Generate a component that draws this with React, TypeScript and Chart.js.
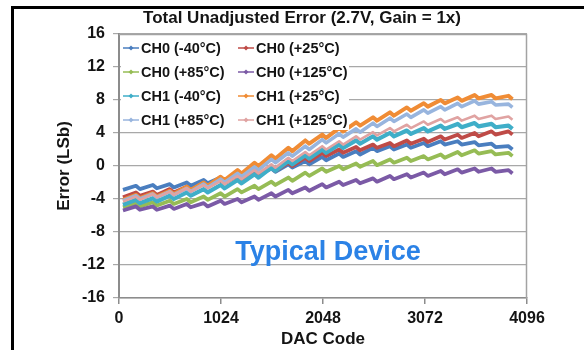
import React, { useEffect, useRef } from "react";
import { Chart, registerables } from "chart.js";

Chart.register(...registerables);

const chartTitle = "Total Unadjusted Error (2.7V, Gain = 1x)";
const xAxisTitle = "DAC Code";
const yAxisTitle = "Error (LSb)";
const noteText = "Typical Device";

const xTicks = [0, 1024, 2048, 3072, 4096];
const yTicks = [-16, -12, -8, -4, 0, 4, 8, 12, 16];

const dacCodes = [
  40, 170, 210, 340, 380, 510, 550, 680, 720, 850, 890, 1020, 1060, 1190, 1230, 1360,
  1400, 1530, 1570, 1700, 1740, 1870, 1910, 2040, 2080, 2210, 2250, 2380, 2420, 2550,
  2590, 2720, 2760, 2890, 2930, 3060, 3100, 3230, 3270, 3400, 3440, 3570, 3610, 3740,
  3780, 3910, 3950,
];

const seriesLabels = [
  "CH0 (-40°C)",
  "CH0 (+25°C)",
  "CH0 (+85°C)",
  "CH0 (+125°C)",
  "CH1 (-40°C)",
  "CH1 (+25°C)",
  "CH1 (+85°C)",
  "CH1 (+125°C)",
];

const ch0Minus40 = [
  -2.9, -2.4, -2.8, -2.3, -2.7, -2.2, -2.6, -2.0, -2.4, -1.7, -2.1, -1.4, -1.8, -1.1, -1.5, -0.7,
  -1.1, -0.3, -0.7, 0.2, -0.2, 0.6, 0.2, 1.1, 0.7, 1.5, 1.1, 1.8, 1.4, 2.2, 1.8, 2.4,
  2.0, 2.6, 2.2, 2.8, 2.4, 3.0, 2.6, 3.0, 2.6, 2.9, 2.5, 2.7, 2.3, 2.4, 2.0,
];
const ch0Plus25 = [
  -3.8, -3.2, -3.6, -3.1, -3.5, -2.8, -3.2, -2.5, -2.9, -2.1, -2.5, -1.7, -2.1, -1.2, -1.6, -0.7,
  -1.1, -0.2, -0.6, 0.4, 0.0, 1.0, 0.6, 1.6, 1.2, 2.0, 1.6, 2.3, 1.9, 2.6, 2.2, 2.8,
  2.4, 3.1, 2.7, 3.3, 2.9, 3.6, 3.2, 3.8, 3.4, 4.0, 3.6, 4.2, 3.8, 4.2, 3.8,
];
const ch0Plus85 = [
  -5.0, -4.5, -4.9, -4.4, -4.8, -4.2, -4.6, -4.0, -4.4, -3.7, -4.1, -3.3, -3.7, -2.8, -3.2, -2.4,
  -2.8, -1.9, -2.3, -1.4, -1.8, -0.8, -1.2, -0.3, -0.7, 0.0, -0.4, 0.3, -0.1, 0.6, 0.1, 0.8,
  0.4, 1.0, 0.6, 1.2, 0.8, 1.4, 1.0, 1.7, 1.3, 1.9, 1.5, 1.8, 1.4, 1.6, 1.2,
];
const ch0Plus125 = [
  -5.4, -4.9, -5.3, -4.9, -5.3, -4.8, -5.2, -4.6, -5.0, -4.5, -4.9, -4.2, -4.6, -4.0, -4.4, -3.7,
  -4.1, -3.3, -3.7, -2.9, -3.3, -2.6, -3.0, -2.2, -2.6, -1.9, -2.3, -1.7, -2.1, -1.5, -1.9, -1.2,
  -1.6, -1.0, -1.4, -0.8, -1.2, -0.6, -1.0, -0.4, -0.8, -0.3, -0.7, -0.3, -0.7, -0.5, -0.9,
];
const ch1Minus40 = [
  -4.7, -4.1, -4.5, -3.9, -4.3, -3.6, -4.0, -3.2, -3.6, -2.8, -3.2, -2.3, -2.7, -1.7, -2.1, -1.0,
  -1.4, -0.2, -0.6, 0.6, 0.2, 1.3, 0.9, 2.0, 1.6, 2.6, 2.2, 3.1, 2.7, 3.6, 3.2, 4.0,
  3.6, 4.3, 3.9, 4.6, 4.2, 4.9, 4.5, 5.1, 4.7, 5.2, 4.8, 5.1, 4.7, 4.9, 4.5,
];
const ch1Plus25 = [
  -4.1, -3.5, -3.9, -3.3, -3.7, -3.0, -3.4, -2.5, -2.9, -2.0, -2.4, -1.3, -1.7, -0.5, -0.9, 0.4,
  0.0, 1.3, 0.9, 2.2, 1.8, 3.1, 2.7, 3.8, 3.4, 4.6, 4.2, 5.3, 4.9, 5.9, 5.5, 6.5,
  6.1, 7.1, 6.7, 7.6, 7.2, 8.0, 7.6, 8.3, 7.9, 8.6, 8.2, 8.6, 8.2, 8.5, 8.1,
];
const ch1Plus85 = [
  -4.2, -3.6, -4.0, -3.4, -3.8, -3.1, -3.5, -2.7, -3.1, -2.2, -2.6, -1.6, -2.0, -0.9, -1.3, -0.1,
  -0.5, 0.8, 0.4, 1.6, 1.2, 2.4, 2.0, 3.2, 2.8, 3.9, 3.5, 4.5, 4.1, 5.2, 4.8, 5.8,
  5.4, 6.3, 5.9, 6.8, 6.4, 7.2, 6.8, 7.6, 7.2, 7.9, 7.5, 7.8, 7.4, 7.5, 7.1,
];
const ch1Plus125 = [
  -4.3, -3.7, -4.1, -3.4, -3.8, -3.1, -3.5, -2.7, -3.1, -2.3, -2.7, -1.8, -2.2, -1.2, -1.6, -0.5,
  -0.9, 0.2, -0.2, 1.0, 0.6, 1.7, 1.3, 2.4, 2.0, 3.0, 2.6, 3.6, 3.2, 4.1, 3.7, 4.6,
  4.2, 5.0, 4.6, 5.4, 5.0, 5.7, 5.3, 5.9, 5.5, 6.1, 5.7, 6.1, 5.7, 6.0, 5.6,
];

const seriesValues = [
  ch0Minus40,
  ch0Plus25,
  ch0Plus85,
  ch0Plus125,
  ch1Minus40,
  ch1Plus25,
  ch1Plus85,
  ch1Plus125,
];

const seriesColors = [
  "#4A7EBF",
  "#BF4B47",
  "#96BC55",
  "#7B5AA6",
  "#3FAEC8",
  "#F08C35",
  "#98B5DE",
  "#E0A3A2",
];
const seriesWidths = [3.8, 3.8, 3.8, 3.8, 4.2, 4.0, 3.6, 2.6];

const FONT = "'Liberation Sans', Arial, sans-serif";

const overlayPlugin = {
  id: "overlay",
  beforeDatasetsDraw(chart: any) {
    const { ctx, chartArea: a } = chart;
    ctx.save();
    ctx.strokeStyle = "#a3a3a3";
    ctx.lineWidth = 1.5;
    ctx.beginPath();
    ctx.moveTo(a.left, a.top + 0.5);
    ctx.lineTo(a.right - 0.5, a.top + 0.5);
    ctx.lineTo(a.right - 0.5, a.bottom);
    ctx.stroke();
    ctx.restore();
  },
  afterDatasetsDraw(chart: any) {
    const { ctx, chartArea: a } = chart;
    ctx.save();
    ctx.fillStyle = "#ffffff";
    ctx.fillRect(a.left + 2, a.top + 2, 228, 94);
    const colX = [123, 238];
    const rowY = [48, 72, 96, 120];
    ctx.font = `bold 14.5px ${FONT}`;
    ctx.textBaseline = "middle";
    ctx.textAlign = "left";
    seriesLabels.forEach((label, i) => {
      const x = colX[i % 2];
      const y = rowY[Math.floor(i / 2)];
      ctx.strokeStyle = seriesColors[i];
      ctx.lineWidth = 1.5;
      ctx.beginPath();
      ctx.moveTo(x, y);
      ctx.lineTo(x + 16, y);
      ctx.stroke();
      ctx.fillStyle = seriesColors[i];
      ctx.beginPath();
      ctx.moveTo(x + 8, y - 2.5);
      ctx.lineTo(x + 10.5, y);
      ctx.lineTo(x + 8, y + 2.5);
      ctx.lineTo(x + 5.5, y);
      ctx.closePath();
      ctx.fill();
      ctx.fillStyle = "#141414";
      ctx.fillText(label, x + 18, y + 1);
    });
    ctx.fillStyle = "#2B82E6";
    ctx.font = `bold 27px ${FONT}`;
    ctx.textAlign = "center";
    ctx.fillText(noteText, 328, 253);
    ctx.fillStyle = "#141414";
    ctx.font = `bold 17px ${FONT}`;
    ctx.fillText(chartTitle, 302, 18);
    ctx.restore();
  },
};

export default function App() {
  const canvasRef = useRef<HTMLCanvasElement | null>(null);

  useEffect(() => {
    const canvas = canvasRef.current;
    if (!canvas) return;
    const datasets = seriesLabels.map((label, i) => ({
      label,
      data: dacCodes.map((c, j) => ({ x: c, y: seriesValues[i][j] })),
      borderColor: seriesColors[i],
      backgroundColor: seriesColors[i],
      borderWidth: seriesWidths[i],
      borderJoinStyle: "round" as const,
      pointRadius: 0,
      tension: 0,
      fill: false,
      order: seriesLabels.length - i,
    }));
    const chart = new Chart(canvas, {
      type: "line",
      data: { datasets },
      plugins: [overlayPlugin],
      options: {
        responsive: false,
        animation: false,
        events: [],
        layout: { padding: { top: 34, right: 57, bottom: 0, left: 0 } },
        plugins: {
          legend: { display: false },
          tooltip: { enabled: false },
          title: { display: false },
        },
        scales: {
          x: {
            type: "linear",
            min: 0,
            max: 4096,
            afterBuildTicks: (scale: any) => {
              scale.ticks = xTicks.map((v) => ({ value: v }));
            },
            afterFit: (scale: any) => {
              scale.height = 52;
            },
            ticks: {
              color: "#141414",
              font: { family: FONT, size: 16, weight: "bold" },
              padding: 5,
              maxRotation: 0,
              autoSkip: false,
              callback: (v: any) => String(v),
            },
            grid: {
              drawOnChartArea: false,
              drawTicks: true,
              tickLength: 6,
              color: "#8c8c8c",
              lineWidth: 1.5,
            },
            border: { color: "#8c8c8c", width: 1.5 },
            title: {
              display: true,
              text: xAxisTitle,
              color: "#141414",
              font: { family: FONT, size: 17, weight: "bold" },
              padding: { top: 0, bottom: 0 },
            },
          },
          y: {
            type: "linear",
            min: -16,
            max: 16,
            afterBuildTicks: (scale: any) => {
              scale.ticks = yTicks.map((v) => ({ value: v }));
            },
            afterFit: (scale: any) => {
              scale.width = 119;
            },
            ticks: {
              color: "#141414",
              font: { family: FONT, size: 16, weight: "bold" },
              padding: 8,
              autoSkip: false,
              callback: (v: any) => String(v),
            },
            grid: {
              color: "#a8a8a8",
              lineWidth: 1.2,
              drawTicks: true,
              tickLength: 6,
            },
            border: { color: "#8c8c8c", width: 2 },
            title: {
              display: true,
              text: yAxisTitle,
              color: "#141414",
              font: { family: FONT, size: 17, weight: "bold" },
              padding: { top: 54, bottom: 0 },
            },
          },
        },
      },
    });
    return () => chart.destroy();
  }, []);

  return (
    <div
      style={{
        position: "fixed",
        left: 0,
        top: 0,
        width: 584,
        height: 350,
        overflow: "hidden",
        background: "#ffffff",
      }}
    >
      <canvas ref={canvasRef} width={584} height={350} style={{ display: "block" }} />
      <div
        style={{
          position: "absolute",
          left: 11,
          top: 6,
          width: 640,
          height: 400,
          borderLeft: "3px solid #000",
          borderTop: "3px solid #000",
          pointerEvents: "none",
        }}
      />
    </div>
  );
}
